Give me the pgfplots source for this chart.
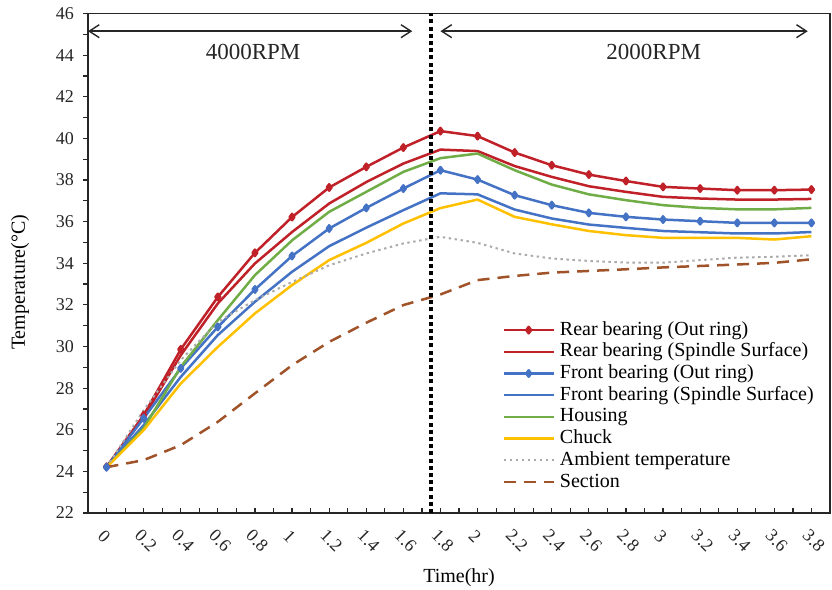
\documentclass[border=0pt]{standalone}
\usepackage{fontspec}
\setmainfont{Liberation Serif}
\usepackage{pgfplots}
\usepackage{pgfplotstable}
\pgfplotsset{compat=1.18}
\usetikzlibrary{arrows.meta}
\definecolor{cred}{RGB}{192,32,40}
\definecolor{cblue}{RGB}{68,114,196}
\definecolor{cgreen}{RGB}{112,173,71}
\definecolor{cyellow}{RGB}{255,192,0}
\definecolor{cgray}{RGB}{170,170,170}
\definecolor{cbrown}{RGB}{160,82,40}
\pgfplotstableread{
t   ro     rs     fo     fs     ho     ch     am     se
0.0 24.22  24.20  24.20  24.20  24.20  24.20  24.20  24.20
0.2 26.70  26.60  26.55  26.22  26.07  25.98  26.94  24.54
0.4 29.86  29.58  28.95  28.54  29.02  28.22  29.35  25.26
0.6 32.38  32.07  30.94  30.55  31.27  29.98  31.18  26.38
0.8 34.50  33.99  32.74  32.15  33.43  31.59  32.23  27.75
1.0 36.22  35.50  34.35  33.59  35.10  32.95  33.10  29.10
1.2 37.64  36.87  35.67  34.82  36.47  34.15  33.90  30.22
1.4 38.63  37.90  36.66  35.71  37.43  34.98  34.47  31.14
1.6 39.56  38.79  37.59  36.55  38.39  35.91  34.95  31.99
1.8 40.35  39.46  38.47  37.36  39.05  36.65  35.27  32.50
2.0 40.11  39.39  38.02  37.31  39.27  37.06  34.98  33.19
2.2 39.32  38.67  37.27  36.58  38.47  36.23  34.47  33.39
2.4 38.71  38.15  36.79  36.15  37.78  35.87  34.23  33.55
2.6 38.26  37.70  36.42  35.86  37.31  35.55  34.11  33.63
2.8 37.95  37.43  36.23  35.70  37.03  35.35  34.03  33.71
3.0 37.67  37.19  36.10  35.55  36.79  35.22  34.03  33.80
3.2 37.59  37.11  36.02  35.49  36.66  35.22  34.15  33.87
3.4 37.51  37.06  35.94  35.43  36.59  35.22  34.27  33.94
3.6 37.51  37.06  35.94  35.43  36.59  35.14  34.31  34.02
3.8 37.54  37.09  35.94  35.50  36.66  35.30  34.39  34.19
}\datatable
\begin{document}
\begin{tikzpicture}
\begin{axis}[
  name=ax,
  scale only axis,
  width=371pt, height=249.75pt,
  xmin=-0.1, xmax=3.9, ymin=22, ymax=46,
  axis line style={black!85, line width=0.6pt},
  xtick={0,0.2,0.4,0.6,0.8,1.0,1.2,1.4,1.6,1.8,2.0,2.2,2.4,2.6,2.8,3.0,3.2,3.4,3.6,3.8},
  xticklabels={0,0.2,0.4,0.6,0.8,1,1.2,1.4,1.6,1.8,2,2.2,2.4,2.6,2.8,3,3.2,3.4,3.6,3.8},
  minor xtick={0.1,0.3,0.5,0.7,0.9,1.1,1.3,1.5,1.7,1.9,2.1,2.3,2.5,2.7,2.9,3.1,3.3,3.5,3.7},
  ytick={22,24,...,46},
  minor ytick={23,25,...,45},
  xtick pos=bottom, ytick pos=left,
  x tick style={black!85, line width=0.6pt},
  y tick style={black!85, line width=0.6pt},
  xtick align=inside, ytick align=outside,
  major tick length=2.5pt, minor tick length=2.5pt,
  /pgf/number format/assume math mode=true,
  tick label style={font=\fontsize{9}{10}\selectfont, text=black!85},
  x tick label style={rotate=-45, anchor=west, yshift=-9pt, xshift=1.5pt},
  y tick label style={xshift=-1pt},
  xlabel={Time(hr)},
  ylabel={Temperature(°C)},
  label style={font=\fontsize{10}{12}\selectfont},
  xlabel style={at={(axis description cs:0.5,0)}, anchor=center, yshift=-32.5pt},
  ylabel style={at={(axis description cs:0,0.5)}, anchor=center, yshift=34pt, xshift=-9.5pt},
  legend cell align=left,
  legend style={draw=none, fill=none, inner sep=0pt,
    at={(rel axis cs:0.558,0.385)}, anchor=north west,
    font=\fontsize{10}{12}\selectfont, row sep=1.85pt,
    nodes={inner sep=0pt, text height=7pt, text depth=2pt},
    /tikz/every odd column/.append style={column sep=2.5pt}},
  legend image code/.code={\draw[mark repeat=2,mark phase=2,#1] plot coordinates {(0pt,0pt) (12.5pt,0pt) (25pt,0pt)};},
  every axis plot/.append style={line width=1.25pt, line join=round},
]
\addplot[cred, mark=diamond*, mark size=1.6pt] table[x=t,y=ro]{\datatable};
\addlegendentry{Rear bearing (Out ring)}
\addplot[cred] table[x=t,y=rs]{\datatable};
\addlegendentry{Rear bearing (Spindle Surface)}
\addplot[cblue, mark=diamond*, mark size=1.6pt] table[x=t,y=fo]{\datatable};
\addlegendentry{Front bearing (Out ring)}
\addplot[cblue] table[x=t,y=fs]{\datatable};
\addlegendentry{Front bearing (Spindle Surface)}
\addplot[cgreen] table[x=t,y=ho]{\datatable};
\addlegendentry{Housing}
\addplot[cyellow] table[x=t,y=ch]{\datatable};
\addlegendentry{Chuck}
\addplot[cgray, line width=1pt, dash pattern=on 1.2pt off 1.8pt] table[x=t,y=am]{\datatable};
\addlegendentry{Ambient temperature}
\addplot[cbrown, dash pattern=on 6pt off 4pt] table[x=t,y=se]{\datatable};
\addlegendentry{Section}
% vertical separator
\addplot[forget plot, black, line width=2pt, dash pattern=on 2pt off 1.6pt] coordinates {(1.75,22) (1.75,46)};
% arrows
\addplot[forget plot, black!85, line width=0.7pt, {Straight Barb[length=5pt,width=6.5pt]}-{Straight Barb[length=5pt,width=6.5pt]}] coordinates {(-0.1,45.15) (1.648,45.15)};
\addplot[forget plot, black!85, line width=0.7pt, {Straight Barb[length=5pt,width=6.5pt]}-{Straight Barb[length=5pt,width=6.5pt]}] coordinates {(1.80,45.15) (3.78,45.15)};
\node[font=\fontsize{11.5}{13}\selectfont, text=black!85] at (axis cs:0.79,44.15) {4000RPM};
\node[font=\fontsize{11.5}{13}\selectfont, text=black!85] at (axis cs:2.95,44.15) {2000RPM};
\end{axis}
\pgfresetboundingbox
\useasboundingbox ([shift={(-44pt,-38pt)}]ax.south west) rectangle ([shift={(1pt,6.75pt)}]ax.north east);
\end{tikzpicture}
\end{document}
